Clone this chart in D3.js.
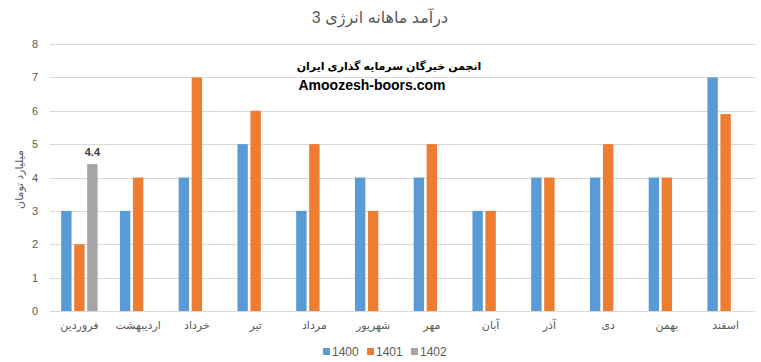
<!DOCTYPE html>
<html>
<head>
<meta charset="utf-8" />
<title>درآمد ماهانه انرژی 3</title>
<style>
html, body {
    padding: 0px;
    margin: 0px;
    background: #fff;
}
svg text {
    font-family: "Liberation Sans", "DejaVu Sans", sans-serif;
}
</style>
</head>
<body>
<div id="chart"></div>
<script src="https://cdnjs.cloudflare.com/ajax/libs/d3/7.8.5/d3.min.js"></script>
<script>
!(function(){
    "use strict";

    var months = ["فروردین", "اردیبهشت", "خرداد", "تیر", "مرداد", "شهریور",
                  "مهر", "آبان", "آذر", "دی", "بهمن", "اسفند"];
    var series = ["1400", "1401", "1402"];
    var v1400 = [3, 3, 4, 5, 3, 4, 4, 3, 4, 4, 4, 7];
    var v1401 = [2, 4, 7, 6, 5, 3, 5, 3, 4, 5, 4, 5.9];
    var v1402 = [4.4, null, null, null, null, null, null, null, null, null, null, null];
    var yTicks = [0, 1, 2, 3, 4, 5, 6, 7, 8];
    var colors = ["#5b9bd5", "#ed7d31", "#a5a5a5"];

    var W = 761, H = 362;
    var left = 50, right = 755, top = 44, bottom = 311;

    var svg = d3.select("#chart").append("svg")
        .attr("width", W)
        .attr("height", H);

    var x = d3.scaleBand().domain(months).range([left, right]).padding(0);
    var xs = d3.scaleBand().domain(series).range([0, x.bandwidth()])
        .paddingInner(0.2).paddingOuter(0.86);
    var y = d3.scaleLinear().domain([0, 8]).range([bottom, top]);

    // grid
    svg.append("g").selectAll("line")
        .data(yTicks)
        .enter().append("line")
        .attr("x1", left).attr("x2", right)
        .attr("y1", function(d){ return Math.round(y(d)) + 0.5; })
        .attr("y2", function(d){ return Math.round(y(d)) + 0.5; })
        .attr("stroke", "#d9d9d9")
        .attr("stroke-width", 1);

    // y axis labels
    var yAxis = d3.axisLeft(y).tickValues(yTicks).tickSize(0).tickPadding(12);
    var ga = svg.append("g").attr("transform", "translate(" + left + ",0)").call(yAxis);
    ga.select(".domain").remove();
    ga.selectAll("text").attr("fill", "#595959").style("font-size", "11px");

    // bars
    var all = [v1400, v1401, v1402];
    var rows = [];
    all.forEach(function(arr, si){
        arr.forEach(function(v, mi){
            if (v != null) rows.push({ m: months[mi], s: series[si], v: v, c: colors[si] });
        });
    });

    svg.append("g").selectAll("rect")
        .data(rows)
        .enter().append("rect")
        .attr("x", function(d){ return x(d.m) + xs(d.s); })
        .attr("width", xs.bandwidth())
        .attr("y", function(d){ return y(d.v); })
        .attr("height", function(d){ return y(0) - y(d.v); })
        .attr("fill", function(d){ return d.c; });

    // data label on 1402
    svg.append("g").selectAll("text")
        .data(rows.filter(function(d){ return d.s === "1402"; }))
        .enter().append("text")
        .attr("x", function(d){ return x(d.m) + xs(d.s) + xs.bandwidth() / 2; })
        .attr("y", function(d){ return y(d.v) - 8; })
        .attr("text-anchor", "middle")
        .attr("fill", "#404040")
        .style("font-size", "11px")
        .style("font-weight", "bold")
        .text(function(d){ return d.v; });

    // x axis labels
    var xAxis = d3.axisBottom(x).tickSize(0).tickPadding(10);
    var gx = svg.append("g").attr("transform", "translate(0," + bottom + ")").call(xAxis);
    gx.select(".domain").remove();
    gx.selectAll("text").attr("fill", "#595959").style("font-size", "11px");

    // title
    svg.append("text")
        .attr("x", 380).attr("y", 23)
        .attr("text-anchor", "middle")
        .attr("fill", "#595959")
        .style("font-size", "16px")
        .text("درآمد ماهانه انرژی 3");

    // watermark
    svg.append("text")
        .attr("x", 389).attr("y", 70)
        .attr("text-anchor", "middle")
        .attr("fill", "#000")
        .style("font-size", "11px")
        .style("font-weight", "bold")
        .text("انجمن خبرگان سرمایه گذاری ایران");
    svg.append("text")
        .attr("x", 372).attr("y", 90)
        .attr("text-anchor", "middle")
        .attr("fill", "#000")
        .style("font-size", "14px")
        .style("font-weight", "bold")
        .text("Amoozesh-boors.com");

    // y title
    svg.append("text")
        .attr("transform", "translate(23," + ((top + bottom) / 2 + 2) + ") rotate(-90)")
        .attr("text-anchor", "middle")
        .attr("fill", "#595959")
        .style("font-size", "11px")
        .text("میلیارد تومان");

    // legend
    var lg = svg.append("g").selectAll("g")
        .data(series)
        .enter().append("g")
        .attr("transform", function(d, i){ return "translate(" + (323 + i * 44) + ",348)"; });
    lg.append("rect")
        .attr("width", 7).attr("height", 7)
        .attr("fill", function(d, i){ return colors[i]; });
    lg.append("text")
        .attr("x", 9).attr("y", 8)
        .attr("fill", "#595959")
        .style("font-size", "12px")
        .text(function(d){ return d; });

}());
</script>
</body>
</html>
